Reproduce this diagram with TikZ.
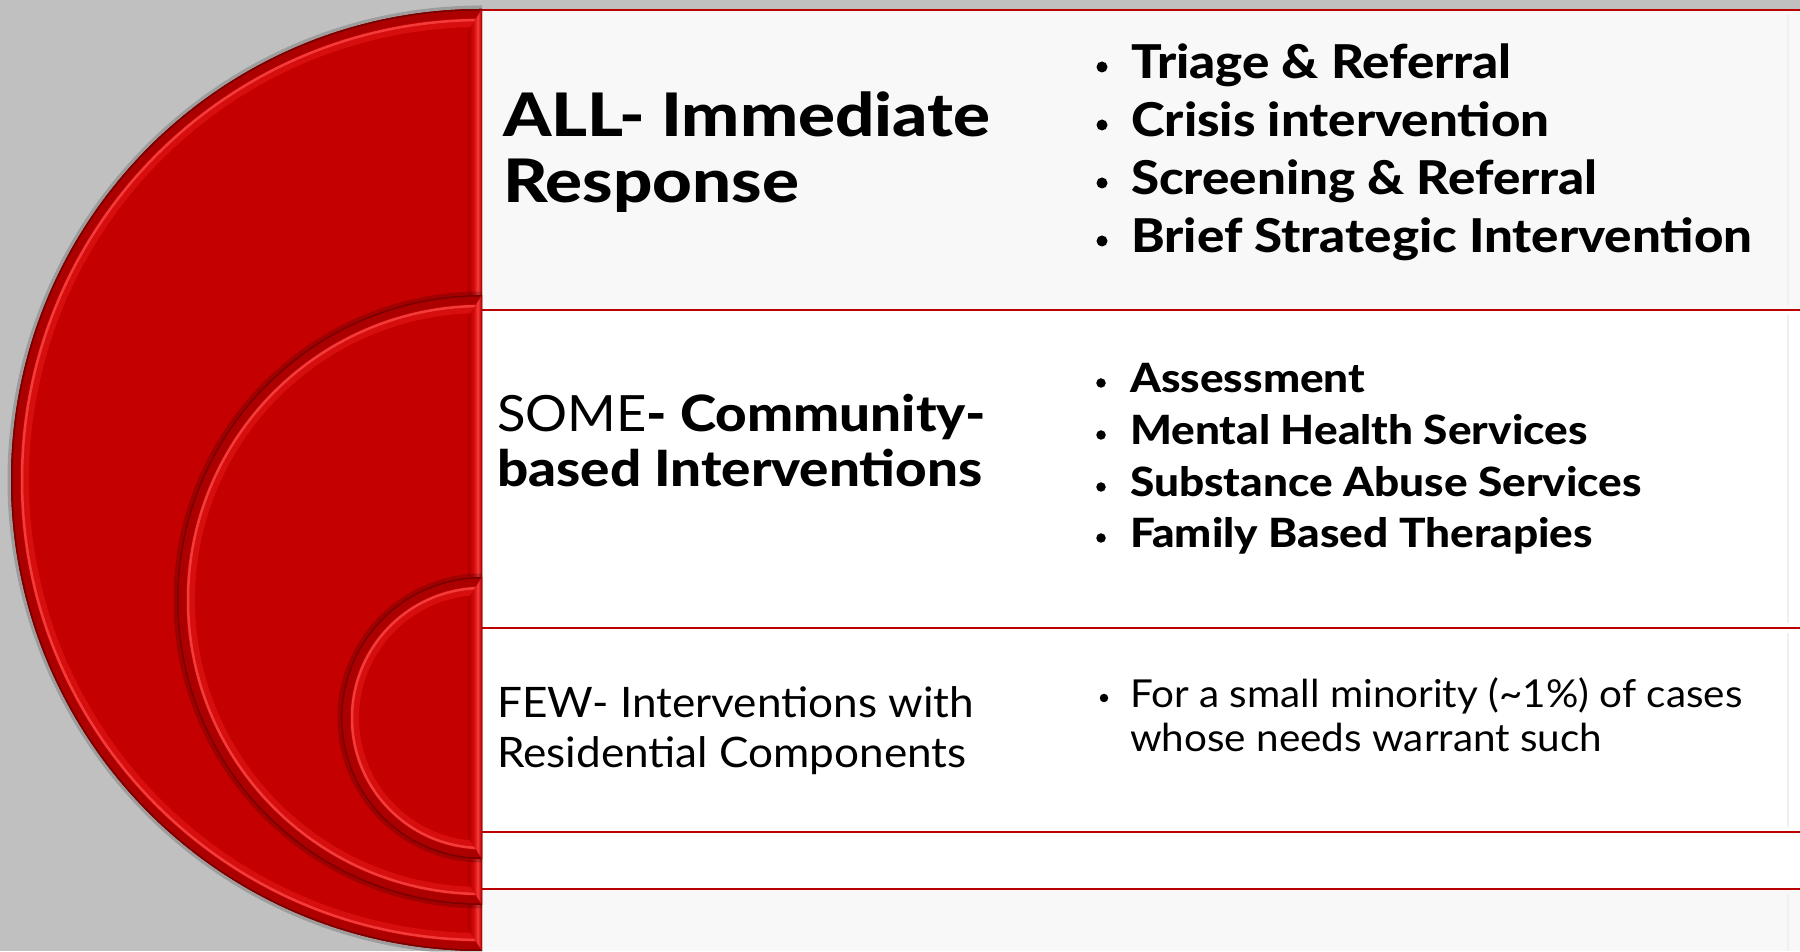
\documentclass[tikz,border=0pt]{standalone}
\usepackage{fontspec}
\setmainfont{Lato}
\IfFontExistsTF{Lato Heavy}{%
  \newfontfamily\wideheavy[FakeStretch=1.15,BoldFont={Lato Heavy}]{Lato}
  \newfontfamily\hvyfont[FakeStretch=1.095,BoldFont={Lato Heavy}]{Lato}
}{%
  \newfontfamily\wideheavy[FakeStretch=1.17]{Lato}
  \newfontfamily\hvyfont[FakeStretch=1.12]{Lato}
}
\newfontfamily\regfont[FakeStretch=1.05]{Lato}

\definecolor{bggray}{HTML}{C0C0C0}
\definecolor{rowgray}{HTML}{F8F8F8}
\definecolor{discred}{HTML}{C40000}
\definecolor{rimdark}{HTML}{AC0000}
\definecolor{rimedge}{HTML}{760000}
\definecolor{rimhi}{HTML}{F23C3C}
\definecolor{rimglow}{HTML}{D60E0E}
\definecolor{linered}{HTML}{BA0000}
\definecolor{faintedge}{HTML}{F0F0F0}

% bevel on the flat (right) edge of each half disc
\pgfdeclarehorizontalshading{stripshade}{100bp}{%
  color(0bp)=(rimdark); color(25bp)=(rimdark); color(35bp)=(discred);
  color(47bp)=(rimglow); color(60bp)=(rimhi); color(69bp)=(rimglow);
  color(75bp)=(rimedge); color(100bp)=(rimedge)}

% half disc with bevelled rim: centre x, centre y, radius
\newcommand{\halfdisc}[3]{%
  \draw[black, opacity=.18, line width=7]
    (#1,#2+#3) arc[start angle=90,end angle=270,radius=#3];
  \fill[discred] (#1,#2+#3) arc[start angle=90,end angle=270,radius=#3] -- cycle;
  \begin{scope}
    \clip (#1,#2+#3) arc[start angle=90,end angle=270,radius=#3] -- cycle;
    \draw[rimglow, line width=8]
      (#1,#2+#3-14) arc[start angle=90,end angle=270,radius=#3-14];
    \draw[rimhi, line width=2.5]
      (#1,#2+#3-11) arc[start angle=90,end angle=270,radius=#3-11];
    \draw[rimdark, line width=18]
      (#1,#2+#3) arc[start angle=90,end angle=270,radius=#3];
    \draw[rimedge, line width=3]
      (#1,#2+#3) arc[start angle=90,end angle=270,radius=#3];
    \shade[shading=stripshade] (#1,#2+#3) -- (#1-14,#2+#3-22)
      -- (#1-14,#2-#3+22) -- (#1,#2-#3) -- cycle;
  \end{scope}
}

\tikzset{
  rowline/.style={linered, line width=2.5},
  edgeline/.style={faintedge, line width=1.5},
  txt/.style={anchor=base west, inner sep=0pt, text=black},
  dot/.style={circle, fill=black, inner sep=0pt, minimum size=#1},
  headA/.style={font=\wideheavy\bfseries\fontsize{60}{66}\selectfont},
  listA/.style={font=\hvyfont\bfseries\fontsize{46.6}{52}\selectfont},
  headB/.style={font=\fontsize{50}{55}\selectfont},
  listB/.style={font=\hvyfont\bfseries\fontsize{40.3}{46}\selectfont},
  headC/.style={font=\regfont\fontsize{42}{48}\selectfont},
  listC/.style={font=\regfont\fontsize{38.5}{44}\selectfont},
}

\begin{document}
\begin{tikzpicture}[x=1pt,y=1pt]
\useasboundingbox (0,0) rectangle (1800,951);
\fill[bggray] (0,0) rectangle (1800,951);

% table rows
\fill[rowgray] (482,641) rectangle (1800,941);
\fill[white] (482,62) rectangle (1800,641);
\fill[rowgray] (482,0) rectangle (1800,62);
\draw[edgeline] (1788,936) -- (1788,646);
\draw[edgeline] (1788,636) -- (1788,328);
\draw[edgeline] (1788,318) -- (1788,124);
\draw[edgeline] (1788,57) -- (1788,0);
\draw[rowline] (482,941) -- (1800,941);
\draw[rowline] (482,641) -- (1800,641);
\draw[rowline] (482,323) -- (1800,323);
\draw[rowline] (482,119) -- (1800,119);
\draw[rowline] (482,62) -- (1800,62);

% nested half discs
\halfdisc{482}{471}{471}
\halfdisc{482}{351}{305}
\halfdisc{482}{233}{141}

% ALL
\node[txt, headA] (allA) at (503,814) {ALL- Immediate};
\node[txt, headA] (allB) at (503,748) {Response};
\node[dot=11pt] (ba1) at (1102,884) {};
\node[txt, listA] (a1) at (1131,872) {Triage \& Referral};
\node[dot=11pt] (ba2) at (1102,826) {};
\node[txt, listA] (a2) at (1131,814) {Crisis intervention};
\node[dot=11pt] (ba3) at (1102,768) {};
\node[txt, listA] (a3) at (1131,756) {Screening \& Referral};
\node[dot=11pt] (ba4) at (1102,710) {};
\node[txt, listA] (a4) at (1131,698) {Brief Strategic Intervention};

% SOME
\node[txt, headB] (someA) at (497,519)
  {{\regfont SOME}{\hvyfont\bfseries- Community-}};
\node[txt, headB] (someB) at (497,464) {\hvyfont\bfseries based Interventions};
\node[dot=9.5pt] (bb1) at (1101,568) {};
\node[txt, listB] (b1) at (1130,558) {Assessment};
\node[dot=9.5pt] (bb2) at (1101,516) {};
\node[txt, listB] (b2) at (1130,506) {Mental Health Services};
\node[dot=9.5pt] (bb3) at (1101,464) {};
\node[txt, listB] (b3) at (1130,454) {Substance Abuse Services};
\node[dot=9.5pt] (bb4) at (1101,413) {};
\node[txt, listB] (b4) at (1130,403) {Family Based Therapies};

% FEW
\node[txt, headC] (fewA) at (497,233) {FEW- Interventions with};
\node[txt, headC] (fewB) at (497,183) {Residential Components};
\node[dot=8.5pt] (bc1) at (1104,253) {};
\node[txt, listC] (c1) at (1130,243) {For a small minority (\textasciitilde1\%) of cases};
\node[txt, listC] (c2) at (1130,199) {whose needs warrant such};
\end{tikzpicture}
\end{document}
